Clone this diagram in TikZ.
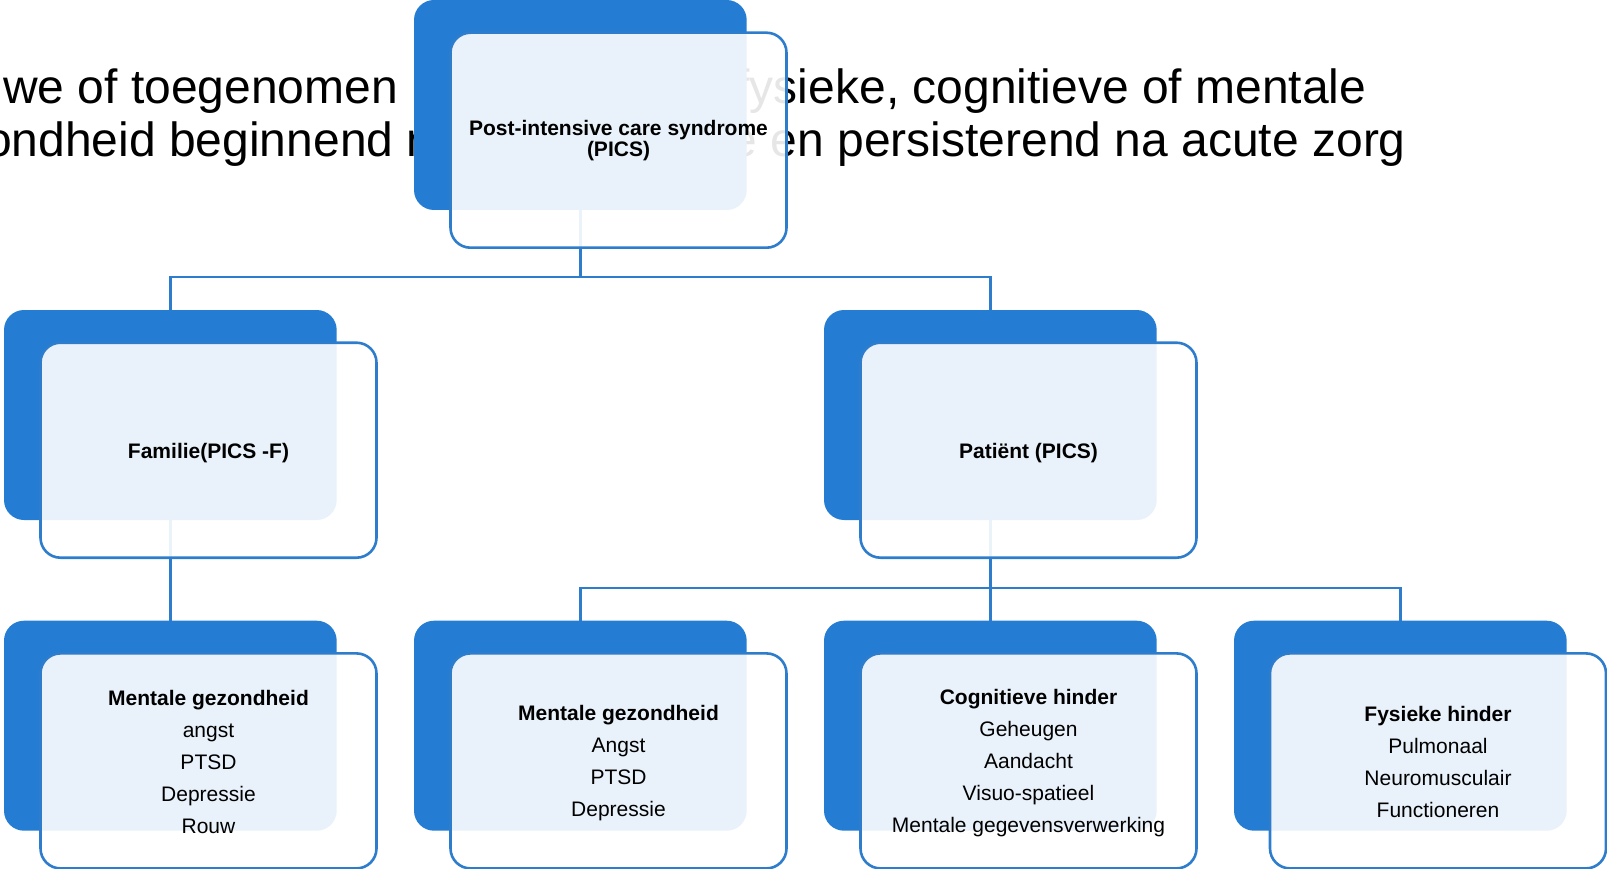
\documentclass[tikz,border=0pt]{standalone}
\usepackage{fontspec}
\setmainfont{Liberation Sans}
\definecolor{pblue}{RGB}{36,124,211}
\definecolor{pline}{RGB}{46,125,205}
\pgfdeclarelayer{bg}
\pgfsetlayers{bg,main}
\begin{document}
\begin{tikzpicture}[x=1pt,y=-1pt,
  backbox/.style={fill=pblue, draw=none, rounded corners=20pt, minimum width=332.7pt, minimum height=210pt, inner sep=0pt},
  frontbox/.style={draw=pline, line width=2.6pt, fill=white, fill opacity=0.9, draw opacity=1, rounded corners=20pt, minimum width=336pt, minimum height=215pt, inner sep=0pt},
  boxtext/.style={inner sep=0pt, align=center, font=\fontsize{21}{32}\selectfont},
  toptext/.style={inner sep=0pt, align=center, font=\bfseries\fontsize{21}{21}\selectfont},
  conn/.style={draw=pline, line width=2.6pt},
  titletext/.style={font=\fontsize{48}{50}\selectfont, inner sep=0pt}
]
\useasboundingbox (0,0) rectangle (1607,869);
\clip (0,0) rectangle (1607,869);

% title text (partly hidden behind the top node)
\node[titletext, anchor=base west] (t1a) at (3,104) {we of toegenomen};
\node[titletext, anchor=base east] (t1b) at (1366.5,104) {fysieke, cognitieve of mentale};
\node[titletext, anchor=base west] (t2a) at (-15,157) {ondheid beginnend n};
\node[titletext, anchor=base east] (t2b) at (1406,157) {me en persisterend na acute zorg};

% row 1
\node[backbox] (b0) at (580.35,105) {};
\node[frontbox] (f0) at (618.5,140.2) {};
\node[toptext] (x0) at (f0.center) {Post-intensive care syndrome\\(PICS)};

% row 2
\node[backbox] (b1) at (170.35,415) {};
\node[frontbox] (f1) at (208.5,450.2) {};
\node[boxtext] (x1) at ([yshift=-2.5pt]f1.center) {\textbf{Familie(PICS -F)}};
\node[backbox] (b2) at (990.35,415) {};
\node[frontbox] (f2) at (1028.5,450.2) {};
\node[boxtext] (x2) at ([yshift=-2.5pt]f2.center) {\textbf{Patiënt (PICS)}};

% row 3
\node[backbox] (b3) at (170.35,725.7) {};
\node[frontbox] (f3) at (208.5,760.9) {};
\node[boxtext] (x3) at ([yshift=-1pt]f3.center) {\textbf{Mentale gezondheid}\\angst\\PTSD\\Depressie\\Rouw};
\node[backbox] (b4) at (580.35,725.7) {};
\node[frontbox] (f4) at (618.5,760.9) {};
\node[boxtext] (x4) at ([yshift=-2.5pt]f4.center) {\textbf{Mentale gezondheid}\\Angst\\PTSD\\Depressie};
\node[backbox] (b5) at (990.35,725.7) {};
\node[frontbox] (f5) at (1028.5,760.9) {};
\node[boxtext] (x5) at ([yshift=-2pt]f5.center) {\textbf{Cognitieve hinder}\\Geheugen\\Aandacht\\Visuo-spatieel\\Mentale gegevensverwerking};
\node[backbox] (b6) at (1400.35,725.7) {};
\node[frontbox] (f6) at (1438,760.9) {};
\node[boxtext] (x6) at ([yshift=-1.5pt]f6.center) {\textbf{Fysieke hinder}\\Pulmonaal\\Neuromusculair\\Functioneren};

% connectors
\coordinate (bus1) at (580.35,277);
\coordinate (bus2) at (990.35,588);
\begin{pgfonlayer}{bg}
\draw[conn] (b0.south) -- (bus1);
\draw[conn] (bus1) -| (b1.north);
\draw[conn] (bus1) -| (b2.north);
\draw[conn] (b1.south) -- (b3.north);
\draw[conn] (b2.south) -- (bus2);
\draw[conn] (bus2) -| (b4.north);
\draw[conn] (bus2) -- (b5.north);
\draw[conn] (bus2) -| (b6.north);
\end{pgfonlayer}
\end{tikzpicture}
\end{document}
